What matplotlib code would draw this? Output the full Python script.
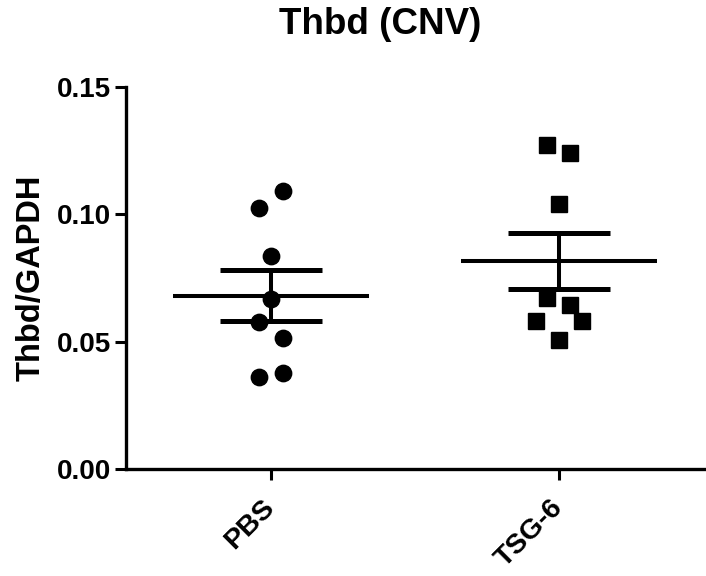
import numpy as np
import matplotlib
matplotlib.use("Agg")
import matplotlib.pyplot as plt

plt.rcParams['font.family'] = ['Liberation Sans', 'DejaVu Sans']
plt.rcParams['font.weight'] = 'bold'

categories = ["PBS", "TSG-6"]
pbs_values = [0.1091, 0.1026, 0.0835, 0.0669, 0.0578, 0.0513, 0.0360, 0.0378]
tsg6_values = [0.1271, 0.1240, 0.1042, 0.0672, 0.0643, 0.0580, 0.0580, 0.0506]
yticks = [0.00, 0.05, 0.10, 0.15]
ytick_labels = ["0.00", "0.05", "0.10", "0.15"]

# horizontal jitter (category units) for scatter points
pbs_offsets = [0.042, -0.042, 0.0, 0.0, -0.042, 0.042, -0.042, 0.042]
tsg6_offsets = [-0.040, 0.040, 0.0, -0.040, 0.040, -0.080, 0.080, 0.0]

fig = plt.figure(figsize=(7.06, 5.76), dpi=100)
ax = fig.add_axes([126/706, 1-469/576, (705-126)/706, (469-87)/576])

groups = [(pbs_values, pbs_offsets, 'o'), (tsg6_values, tsg6_offsets, 's')]
for i, (vals, offs, mk) in enumerate(groups):
    v = np.array(vals)
    xs = i + np.array(offs)
    ax.plot(xs, v, linestyle='none', marker=mk, markersize=11.8,
            color='black', zorder=3)
    mean = v.mean()
    sem = v.std(ddof=1) / np.sqrt(len(v))
    ax.plot([i - 0.339, i + 0.339], [mean, mean], color='black', lw=2.9,
            solid_capstyle='butt', zorder=4)
    ax.plot([i, i], [mean - sem, mean + sem], color='black', lw=2.9,
            solid_capstyle='butt', zorder=4)
    for y in (mean - sem, mean + sem):
        ax.plot([i - 0.176, i + 0.176], [y, y], color='black', lw=3.6,
                solid_capstyle='butt', zorder=4)

ax.set_xlim(-0.503, 1.507)
ax.set_ylim(0, 0.15)
ax.set_yticks(yticks)
ax.set_yticklabels(ytick_labels, fontsize=20, fontweight='bold')
ax.set_xticks(range(len(categories)))
ax.set_xticklabels(categories, fontsize=20.5, fontweight='bold', rotation=45,
                   ha='right', va='center', rotation_mode='anchor')
ax.tick_params(axis='both', direction='out', length=8, width=2.2, color='black')
ax.tick_params(axis='x', pad=17)
ax.tick_params(axis='y', pad=3)
for s in ['top', 'right']:
    ax.spines[s].set_visible(False)
for s in ['left', 'bottom']:
    ax.spines[s].set_linewidth(2.4)
    ax.spines[s].set_color('black')

ax.set_ylabel("Thbd/GAPDH", fontsize=23.5, fontweight='bold')
ax.yaxis.set_label_coords(-0.137, 0.5)
fig.text(380/706, 1-25/576, "Thbd (CNV)", ha='center', va='center',
         fontsize=26.5, fontweight='bold')

fig.savefig("out.png", dpi=100)
